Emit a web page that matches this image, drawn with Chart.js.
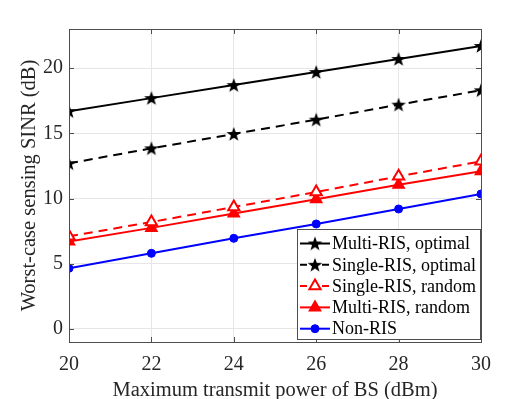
<!DOCTYPE html>
<html>
<head>
<meta charset="utf-8">
<script src="https://cdn.jsdelivr.net/npm/chart.js@4.4.1/dist/chart.umd.min.js"></script>
<style>
  html, body { margin: 0; padding: 0; background: #fff; }
  #wrap { width: 531px; height: 399px; }
</style>
</head>
<body>
<div id="wrap"><canvas id="chart" width="531" height="399"></canvas></div>
<script>
// data
const powers = [20, 22, 24, 26, 28, 30];
const multiOptimal = [16.7, 17.7, 18.7, 19.7, 20.7, 21.7];
const singleOptimal = [12.7, 13.85, 14.95, 16.05, 17.2, 18.3];
const singleRandom = [7.1, 8.2, 9.35, 10.5, 11.7, 12.85];
const multiRandom = [6.7, 7.75, 8.85, 9.95, 11.05, 12.1];
const nonRIS = [4.65, 5.8, 6.95, 8.05, 9.2, 10.35];
const xTicks = [20, 22, 24, 26, 28, 30];
const yTicks = [0, 5, 10, 15, 20];

const serif = '"Liberation Serif", "Times New Roman", serif';

// filled five-point star used as a marker
function makeStar(size, color) {
    const c = document.createElement('canvas');
    c.width = size;
    c.height = size;
    const g = c.getContext('2d');
    const cx = size / 2, cy = size / 2 + 0.6;
    const outer = size / 2 - 0.3, inner = outer * 0.4;
    g.beginPath();
    for (let i = 0; i < 10; i++) {
        const r = i % 2 === 0 ? outer : inner;
        const a = -Math.PI / 2 + i * Math.PI / 5;
        const px = cx + r * Math.cos(a), py = cy + r * Math.sin(a);
        if (i === 0) g.moveTo(px, py); else g.lineTo(px, py);
    }
    g.closePath();
    g.fillStyle = color;
    g.fill();
    return c;
}
const star = makeStar(16, '#000');

function points(ys) {
    return powers.map((x, i) => ({ x: x, y: ys[i] }));
}

const datasets = [
    {
        label: 'Multi-RIS, optimal', data: points(multiOptimal),
        borderColor: '#000', backgroundColor: '#000', borderWidth: 2,
        pointStyle: star, pointRadius: 8
    },
    {
        label: 'Single-RIS, optimal', data: points(singleOptimal),
        borderColor: '#000', backgroundColor: '#000', borderWidth: 2, borderDash: [9, 6],
        pointStyle: star, pointRadius: 8
    },
    {
        label: 'Single-RIS, random', data: points(singleRandom),
        borderColor: '#ff0000', backgroundColor: '#fff', borderWidth: 2, borderDash: [9, 6],
        pointStyle: 'triangle', pointRadius: 6.5, pointBorderWidth: 2
    },
    {
        label: 'Multi-RIS, random', data: points(multiRandom),
        borderColor: '#ff0000', backgroundColor: '#ff0000', borderWidth: 2,
        pointStyle: 'triangle', pointRadius: 6.5, pointBorderWidth: 1.5
    },
    {
        label: 'Non-RIS', data: points(nonRIS),
        borderColor: '#0000ff', backgroundColor: '#0000ff', borderWidth: 2,
        pointStyle: 'circle', pointRadius: 4, pointBorderWidth: 1
    }
];

// box round the axes, inward ticks, legend inside the plot
const matlabFrame = {
    id: 'matlabFrame',
    afterDraw(chart) {
        const ctx = chart.ctx;
        const a = chart.chartArea;
        const xs = chart.scales.x, ys = chart.scales.y;
        ctx.save();
        ctx.strokeStyle = '#4d4d4d';
        ctx.lineWidth = 1;
        ctx.strokeRect(a.left + 0.5, a.top + 0.5, a.right - a.left, a.bottom - a.top);
        ctx.beginPath();
        xTicks.forEach(v => {
            const px = Math.round(xs.getPixelForValue(v)) + 0.5;
            ctx.moveTo(px, a.bottom); ctx.lineTo(px, a.bottom - 5);
            ctx.moveTo(px, a.top); ctx.lineTo(px, a.top + 5);
        });
        yTicks.forEach(v => {
            const py = Math.round(ys.getPixelForValue(v)) + 0.5;
            ctx.moveTo(a.left, py); ctx.lineTo(a.left + 5, py);
            ctx.moveTo(a.right, py); ctx.lineTo(a.right - 5, py);
        });
        ctx.stroke();

        // legend
        const box = { left: 297, top: 229, width: 183, height: 110 };
        ctx.fillStyle = '#fff';
        ctx.fillRect(box.left, box.top, box.width, box.height);
        ctx.strokeStyle = '#4d4d4d';
        ctx.strokeRect(box.left + 0.5, box.top + 0.5, box.width, box.height);
        ctx.font = '18px ' + serif;
        ctx.textBaseline = 'middle';
        chart.data.datasets.forEach((ds, i) => {
            const y = 243.5 + i * 21.3;
            ctx.save();
            ctx.strokeStyle = ds.borderColor;
            ctx.lineWidth = ds.borderWidth;
            ctx.setLineDash(ds.borderDash ? [7, 4] : []);
            ctx.beginPath();
            ctx.moveTo(300, y); ctx.lineTo(330, y);
            ctx.stroke();
            ctx.restore();
            ctx.save();
            ctx.fillStyle = ds.backgroundColor;
            ctx.strokeStyle = ds.borderColor;
            ctx.lineWidth = ds.pointBorderWidth || 1;
            ctx.setLineDash([]);
            Chart.helpers.drawPoint(ctx, {
                pointStyle: ds.pointStyle,
                radius: ds.pointRadius,
                borderWidth: ds.pointBorderWidth || 1,
                rotation: 0
            }, 315, y);
            ctx.restore();
            ctx.fillStyle = '#000';
            ctx.fillText(ds.label, 332, y + 1);
        });
        ctx.restore();
    }
};

new Chart(document.getElementById('chart'), {
    type: 'line',
    data: { datasets: datasets },
    options: {
        responsive: false,
        animation: false,
        devicePixelRatio: 1,
        layout: { padding: { top: 29, right: 50, left: 13, bottom: 0 } },
        plugins: { legend: { display: false }, tooltip: { enabled: false } },
        scales: {
            x: {
                type: 'linear', min: 20, max: 30,
                afterBuildTicks: s => { s.ticks = xTicks.map(v => ({ value: v })); },
                afterFit: s => { s.height = 57; },
                grid: { color: '#e6e6e6', drawTicks: false },
                border: { display: false },
                ticks: { color: '#262626', padding: 11, font: { family: serif, size: 20 } },
                title: {
                    display: true, text: 'Maximum transmit power of BS (dBm)',
                    color: '#262626', padding: { top: 4, bottom: -4 }, font: { family: serif, size: 20.5 }
                }
            },
            y: {
                type: 'linear', min: -1, max: 23,
                afterBuildTicks: s => { s.ticks = yTicks.map(v => ({ value: v })); },
                afterFit: s => { s.width = 56; },
                grid: { color: '#e6e6e6', drawTicks: false },
                border: { display: false },
                ticks: { color: '#262626', padding: 6, font: { family: serif, size: 20 } },
                title: {
                    display: true, text: 'Worst-case sensing SINR (dB)',
                    color: '#262626', padding: { bottom: 4 }, font: { family: serif, size: 20.5 }
                }
            }
        }
    },
    plugins: [matlabFrame]
});
</script>
</body>
</html>
